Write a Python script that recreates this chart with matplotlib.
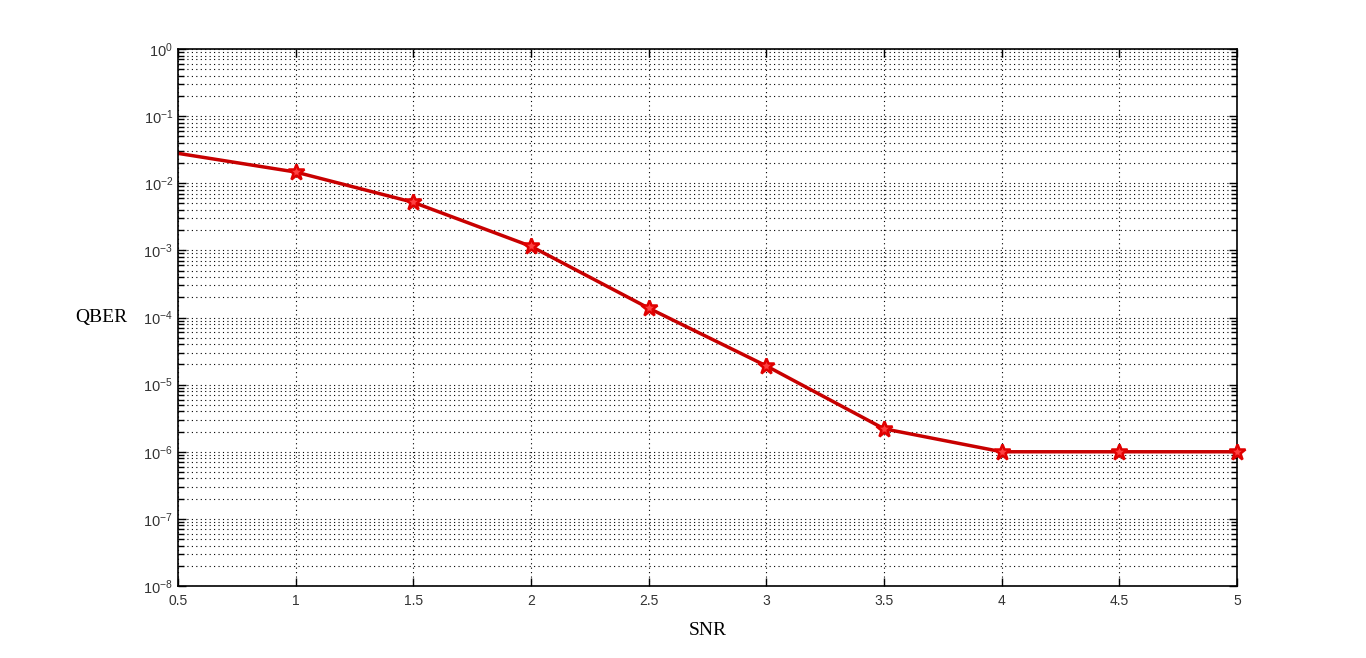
import math
import matplotlib
matplotlib.use("Agg")
import matplotlib.pyplot as plt
from matplotlib.ticker import FixedLocator, NullFormatter

snr = [0.0, 1.0, 1.5, 2.0, 2.5, 3.0, 3.5, 4.0, 4.5, 5.0]
qber = [0.053, 0.0147, 0.0052, 0.00115, 1.38e-4, 1.9e-5, 2.2e-6, 1.0e-6, 1.0e-6, 1.0e-6]
xticks = [0.5, 1, 1.5, 2, 2.5, 3, 3.5, 4, 4.5, 5]
xticklabels = ["0.5", "1", "1.5", "2", "2.5", "3", "3.5", "4", "4.5", "5"]
yexps = [-8, -7, -6, -5, -4, -3, -2, -1, 0]
yticklabels = [r'$10^{%d}$' % e for e in yexps]

plt.rcParams['mathtext.default'] = 'regular'
fig = plt.figure(figsize=(13.66, 6.58), dpi=100)
ax = fig.add_axes([0.1303, 0.1094, 0.9056 - 0.1303, 0.9255 - 0.1094])

ax.semilogy(snr, qber, color='#c80000', lw=2.5)
vis = [(s, q) for s, q in zip(snr, qber) if s >= 0.5]
ax.plot([v[0] for v in vis], [v[1] for v in vis], linestyle='none', marker='*', ms=12,
        mec='#e00000', mfc='#ff4040', mew=1.8, clip_on=False, zorder=5)
ax.set_xlim(0.5, 5)
ax.set_ylim(1e-8, 1)

ax.xaxis.set_major_locator(FixedLocator(xticks))
ax.set_xticklabels(xticklabels, family='Liberation Sans', fontsize=10, color='#333333')
ax.yaxis.set_major_locator(FixedLocator([10.0 ** e for e in yexps]))
minors = [m * 10.0 ** e for e in yexps[:-1] for m in range(2, 10)]
ax.yaxis.set_minor_locator(FixedLocator(minors))
ax.yaxis.set_minor_formatter(NullFormatter())
ax.set_yticklabels(yticklabels, family='Liberation Sans', fontsize=10.5, color='#333333')

ax.tick_params(which='both', direction='in', top=True, right=True, colors='black',
               labelcolor='#333333')
ax.tick_params(which='major', length=6, width=1)
ax.tick_params(which='minor', length=4, width=1)
ax.tick_params(axis='x', pad=6)
ax.grid(True, which='major', linestyle=(0, (1, 3)), color='black', lw=0.8)
ax.grid(True, which='minor', axis='y', linestyle=(0, (1, 3)), color='black', lw=0.8)
for s in ax.spines.values():
    s.set_linewidth(1.2)

ax.set_xlabel('SNR', family='Liberation Serif', fontsize=14, labelpad=10)
ax.set_ylabel('QBER', family='Liberation Serif', fontsize=14, rotation=0, labelpad=30, va='center')

fig.savefig('out.png', dpi=100)
